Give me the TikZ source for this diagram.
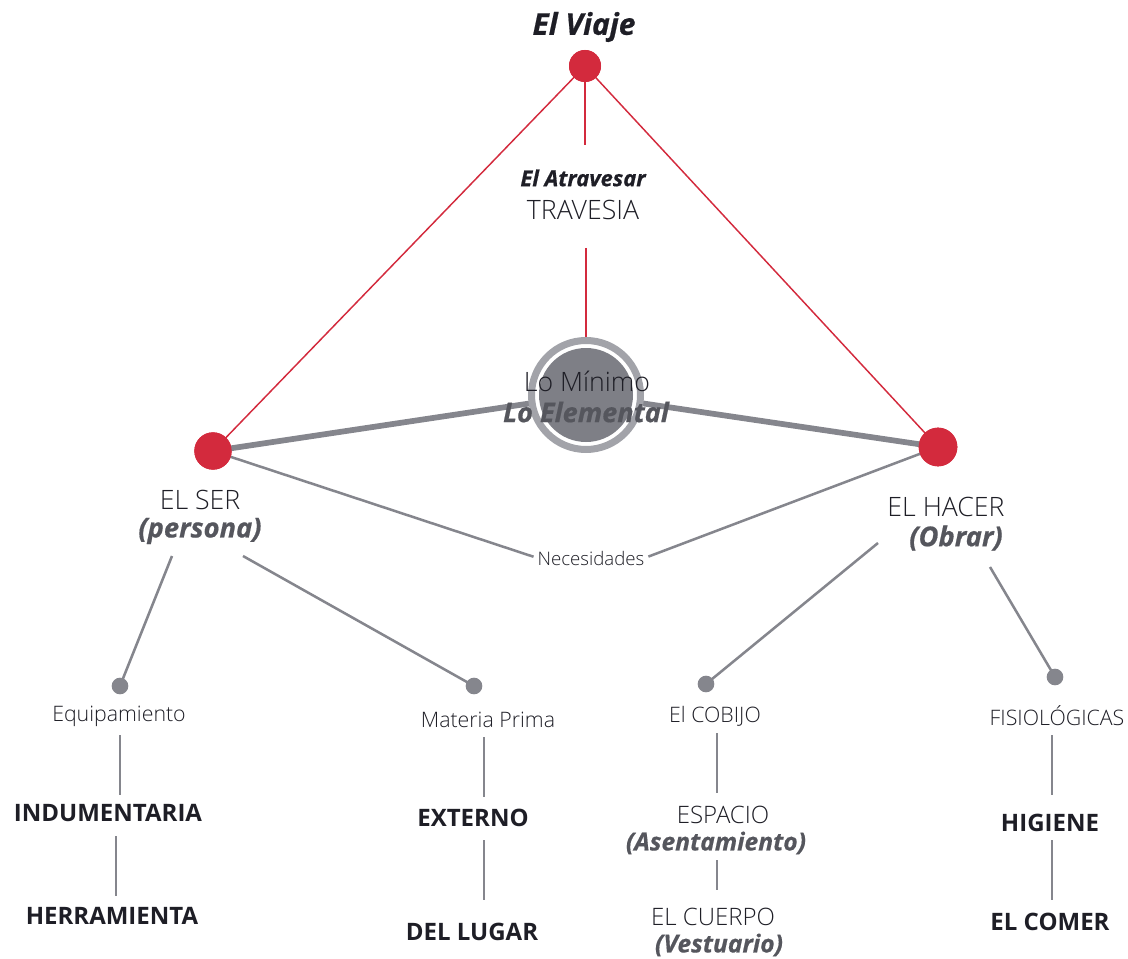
\documentclass[tikz,border=0pt]{standalone}
\usepackage{fontspec}
\setmainfont{Open Sans}
\newfontfamily\ltf{Open Sans Light}
\newfontfamily\xbif{Open Sans}[FakeBold=0.6]
\definecolor{cred}{HTML}{D32A3D}
\definecolor{ctxt}{HTML}{1E1E26}
\definecolor{cline}{HTML}{85868D}
\definecolor{cring}{HTML}{A2A3A9}
\definecolor{cdisc}{HTML}{7E7F86}
\definecolor{cital}{HTML}{55565D}
\tikzset{
  lt/.style={font=\ltf\fontsize{#1}{#1}\selectfont, text=ctxt, inner sep=0pt},
  bi/.style={font=\xbif\bfseries\itshape\fontsize{#1}{#1}\selectfont, text=cital, inner sep=0pt},
  bk/.style={font=\bfseries\fontsize{#1}{#1}\selectfont, text=ctxt, inner sep=0pt},
  rdot/.style={circle, fill=cred, inner sep=0pt, minimum size=#1},
  gdot/.style={circle, fill=cline, inner sep=0pt, minimum size=12.5pt},
  rthin/.style={draw=cred, line width=1.1pt},
  rthick/.style={draw=cred, line width=2.2pt},
  gthick/.style={draw=cline, line width=4.3pt},
  gl/.style={draw=cline, line width=1.9pt},
}
\begin{document}
\begin{tikzpicture}[x=0.75pt,y=-0.75pt]
\useasboundingbox (0,0) rectangle (1128,959);
% positions of main dots
\coordinate (C) at (586,395);
\node[lt=14pt] (nec) at (591,558) {Necesidades};
\node[rdot=24pt] (top) at (585,66) {};
\node[rdot=28pt] (L) at (213,451) {};
\node[rdot=29pt] (R) at (938,447) {};
% red lines
\draw[rthin] (top.center) -- (L.center);
\draw[rthin] (top.center) -- (R.center);
\node[bi=16.5pt, text=ctxt] (atrav) at (583,178) {El Atravesar};
\node[lt=20pt] (trav) at (583,210) {TRAVESIA};
\draw[rthick] (top.center) -- ++(0,79);
\draw[rthick] (C |- trav.center) ++(0,38) -- (C);
% gray lines from main dots
\draw[gthick] (L.center) -- (C);
\draw[gthick] (C) -- (R.center);
\draw[gl, shorten >=3pt] (L.center) -- (nec.west);
\draw[gl, shorten >=3pt] (R.center) -- (nec.east);
% redraw dots on top
\node[rdot=24pt] at (top) {};
\node[rdot=28pt] at (L) {};
\node[rdot=29pt] at (R) {};
% center circle
\node[circle, draw=cring, line width=5.25pt, fill=white, minimum size=81.75pt, inner sep=0pt] (ring) at (C) {};
\node[circle, fill=cdisc, minimum size=70.5pt, inner sep=0pt] (disc) at (C) {};
\node[lt=20pt] (lomin) at (587,381) {Lo Mínimo};
\node[bi=20.3pt] (loelem) at (586,412) {Lo Elemental};
% title
\node[bi=22.5pt, text=ctxt] (viaje) at (584,27) {El Viaje};
% EL SER / EL HACER
\node[lt=20pt] (ser) at (200,500) {EL SER};
\node[bi=20.5pt] (pers) at (200,531) {(persona)};
\node[lt=20pt] (hacer) at (946,507) {EL HACER};
\node[bi=20.5pt] (obrar) at (956,538) {(Obrar)};
% small dots
\node[gdot] (d1) at (120,686) {};
\node[gdot] (d2) at (474,686) {};
\node[gdot] (d3) at (706,684) {};
\node[gdot] (d4) at (1055,677) {};
\coordinate (s1) at (172,556);
\coordinate (s2) at (243,556);
\coordinate (s3) at (878,543);
\coordinate (s4) at (990,567);
\draw[gl] (s1) -- (d1.center);
\draw[gl] (s2) -- (d2.center);
\draw[gl] (s3) -- (d3.center);
\draw[gl] (s4) -- (d4.center);
% level 2
\node[lt=16pt] (equip) at (119,716) {Equipamiento};
\node[lt=16pt] (matp) at (488,720) {Materia Prima};
\node[lt=16pt] (cobijo) at (715,716) {El COBIJO};
\node[lt=16pt] (fisio) at (1057,716) {FISIOLÓGICAS};
% level 3
\node[bk=18pt] (indu) at (108,813) {INDUMENTARIA};
\node[bk=18pt] (herr) at (112,916) {HERRAMIENTA};
\node[bk=18pt] (ext) at (473,818) {EXTERNO};
\node[bk=18pt] (lugar) at (472,932) {DEL LUGAR};
\node[lt=18pt] (esp) at (723,815) {ESPACIO};
\node[bi=18.5pt] (asent) at (716,843) {(Asentamiento)};
\node[lt=18pt] (cuerpo) at (713,917) {EL CUERPO};
\node[bi=18.5pt] (vest) at (719,945) {(Vestuario)};
\node[bk=18pt] (hig) at (1050,823) {HIGIENE};
\node[bk=18pt] (comer) at (1050,922) {EL COMER};
% vertical lines
\draw[gl] (equip.center) ++(1,19) -- ++(0,60);
\draw[gl] (indu.center) ++(8,23) -- ++(0,60);
\draw[gl] (matp.center) ++(-4,17) -- ++(0,60);
\draw[gl] (ext.center) ++(11,22) -- ++(0,60);
\draw[gl] (cobijo.center) ++(2,17) -- ++(0,60);
\draw[gl] (asent.center) ++(1,17) -- ++(0,30);
\draw[gl] (fisio.center) ++(-5,19) -- ++(0,60);
\draw[gl] (hig.center) ++(2,17) -- ++(0,60);
\end{tikzpicture}
\end{document}
